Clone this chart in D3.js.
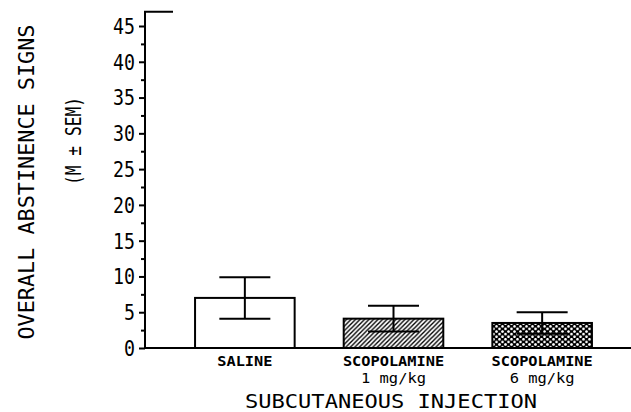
<!DOCTYPE html>
<html>
<head>
<meta charset="utf-8">
<script src="https://cdn.jsdelivr.net/npm/d3@7"></script>
<style>
    body { margin: 0; background: #fff; }
</style>
</head>
<body>
<div id="chart"></div>
<script>
// data
const groups = ["SALINE", "SCOPOLAMINE 1", "SCOPOLAMINE 6"];
const labelLine1 = ["SALINE", "SCOPOLAMINE", "SCOPOLAMINE"];
const labelLine2 = ["", "1 mg/kg", "6 mg/kg"];
const means = [7.0, 4.1, 3.5];
const sems = [2.9, 1.8, 1.5];
const fills = ["white", "url(#hatch)", "url(#dots)"];
const majorTicks = [0, 5, 10, 15, 20, 25, 30, 35, 40, 45];
const minorTicks = [2.5, 7.5, 12.5, 17.5, 22.5, 27.5, 32.5, 37.5, 42.5];

function chart() {
    const width = 631
    const height = 412
    const font = "'DejaVu Sans Mono', monospace"

    let svg = d3.select("#chart")
        .append("svg")
        .attr("width", width)
        .attr("height", height);

    svg.append("rect")
        .attr("width", "100%")
        .attr("height", "100%")
        .attr("fill", "white");

    //patterns for the two drug bars
    let defs = svg.append("defs");
    let hatch = defs.append("pattern")
        .attr("id", "hatch")
        .attr("patternUnits", "userSpaceOnUse")
        .attr("width", 4.5)
        .attr("height", 4.5);
    hatch.append("path")
        .attr("d", "M-1,1 l2,-2 M0,4.5 l4.5,-4.5 M3.5,5.5 l2,-2")
        .attr("stroke", "black")
        .attr("stroke-width", 1.4);

    let dots = defs.append("pattern")
        .attr("id", "dots")
        .attr("patternUnits", "userSpaceOnUse")
        .attr("width", 6)
        .attr("height", 5.2);
    dots.append("rect").attr("width", 6).attr("height", 5.2).attr("fill", "black");
    dots.append("circle").attr("cx", 1.5).attr("cy", 1.3).attr("r", 1.35).attr("fill", "white");
    dots.append("circle").attr("cx", 4.5).attr("cy", 3.9).attr("r", 1.35).attr("fill", "white");

    //scales
    let scaleX = d3.scaleBand()
        .domain(groups)
        .range([146, 641])
        .paddingInner(0.33)
        .paddingOuter(0.33);
    let scaleY = d3.scaleLinear().domain([0, 45]).range([348, 26]);
    const x0 = 145;
    const yTop = scaleY(47);

    let g = svg.append("g");

    //bars
    g.selectAll("rect.bar")
        .data(groups)
        .enter()
        .append("rect")
        .attr("class", "bar")
        .attr("x", d => scaleX(d))
        .attr("y", (d, i) => scaleY(means[i]))
        .attr("width", scaleX.bandwidth())
        .attr("height", (d, i) => scaleY(0) - scaleY(means[i]))
        .attr("fill", (d, i) => fills[i])
        .attr("stroke", "black")
        .attr("stroke-width", 2);

    //error bars
    const capHalf = 25.5;
    let err = g.selectAll("g.err")
        .data(groups)
        .enter()
        .append("g")
        .attr("class", "err")
        .attr("stroke", "black")
        .attr("stroke-width", 2);
    err.append("line")
        .attr("x1", d => scaleX(d) + scaleX.bandwidth() / 2)
        .attr("x2", d => scaleX(d) + scaleX.bandwidth() / 2)
        .attr("y1", (d, i) => scaleY(means[i] + sems[i]))
        .attr("y2", (d, i) => scaleY(means[i] - sems[i]));
    err.append("line")
        .attr("x1", d => scaleX(d) + scaleX.bandwidth() / 2 - capHalf)
        .attr("x2", d => scaleX(d) + scaleX.bandwidth() / 2 + capHalf)
        .attr("y1", (d, i) => scaleY(means[i] + sems[i]))
        .attr("y2", (d, i) => scaleY(means[i] + sems[i]));
    err.append("line")
        .attr("x1", d => scaleX(d) + scaleX.bandwidth() / 2 - capHalf)
        .attr("x2", d => scaleX(d) + scaleX.bandwidth() / 2 + capHalf)
        .attr("y1", (d, i) => scaleY(means[i] - sems[i]))
        .attr("y2", (d, i) => scaleY(means[i] - sems[i]));

    //axes
    let axisY = d3.axisLeft(scaleY)
        .tickValues(majorTicks)
        .tickSize(6)
        .tickFormat("");
    let ay = g.append("g")
        .attr("transform", `translate(${x0},0)`)
        .call(axisY);
    ay.select(".domain").remove();
    ay.selectAll("line").attr("stroke-width", 2);

    let axisMinor = d3.axisLeft(scaleY)
        .tickValues(minorTicks)
        .tickSize(4)
        .tickFormat("");
    let am = g.append("g")
        .attr("transform", `translate(${x0},0)`)
        .call(axisMinor);
    am.select(".domain").remove();
    am.selectAll("line").attr("stroke-width", 2);

    g.append("path")
        .attr("d", `M${x0 + 28},${yTop} H${x0} V${scaleY(0)} H${width}`)
        .attr("fill", "none")
        .attr("stroke", "black")
        .attr("stroke-width", 2);

    //tick labels
    g.selectAll("text.tick")
        .data(majorTicks)
        .enter()
        .append("text")
        .attr("class", "tick")
        .attr("x", 135)
        .attr("y", d => scaleY(d))
        .attr("dy", "0.36em")
        .attr("text-anchor", "end")
        .attr("font-family", font)
        .attr("font-size", 22)
        .attr("textLength", d => String(d).length * 11)
        .attr("lengthAdjust", "spacingAndGlyphs")
        .text(d => d);

    //category labels
    g.selectAll("text.cat1")
        .data(groups)
        .enter()
        .append("text")
        .attr("class", "cat1")
        .attr("x", d => scaleX(d) + scaleX.bandwidth() / 2)
        .attr("y", 366)
        .attr("text-anchor", "middle")
        .attr("font-family", font)
        .attr("font-weight", "bold")
        .attr("font-size", 14)
        .attr("textLength", (d, i) => labelLine1[i].length * 9.2)
        .attr("lengthAdjust", "spacingAndGlyphs")
        .text((d, i) => labelLine1[i]);

    g.selectAll("text.cat2")
        .data(groups.filter((d, i) => labelLine2[i] !== ""))
        .enter()
        .append("text")
        .attr("class", "cat2")
        .attr("x", d => scaleX(d) + scaleX.bandwidth() / 2)
        .attr("y", 383)
        .attr("text-anchor", "middle")
        .attr("font-family", font)
        .attr("font-size", 14)
        .attr("textLength", 65)
        .attr("lengthAdjust", "spacingAndGlyphs")
        .text(d => labelLine2[groups.indexOf(d)]);

    //axis titles
    svg.append("text")
        .attr("x", 391)
        .attr("y", 408)
        .attr("text-anchor", "middle")
        .attr("font-family", font)
        .attr("font-size", 20)
        .attr("textLength", 292)
        .attr("lengthAdjust", "spacingAndGlyphs")
        .text("SUBCUTANEOUS INJECTION");

    svg.append("text")
        .attr("transform", "translate(34,182) rotate(-90)")
        .attr("text-anchor", "middle")
        .attr("font-family", font)
        .attr("font-size", 21)
        .attr("textLength", 315)
        .attr("lengthAdjust", "spacingAndGlyphs")
        .text("OVERALL ABSTINENCE SIGNS");

    svg.append("text")
        .attr("transform", "translate(81,141) rotate(-90)")
        .attr("text-anchor", "middle")
        .attr("font-family", font)
        .attr("font-size", 22)
        .attr("textLength", 88)
        .attr("lengthAdjust", "spacingAndGlyphs")
        .text("(M ± SEM)");
}

chart();
</script>
</body>
</html>
